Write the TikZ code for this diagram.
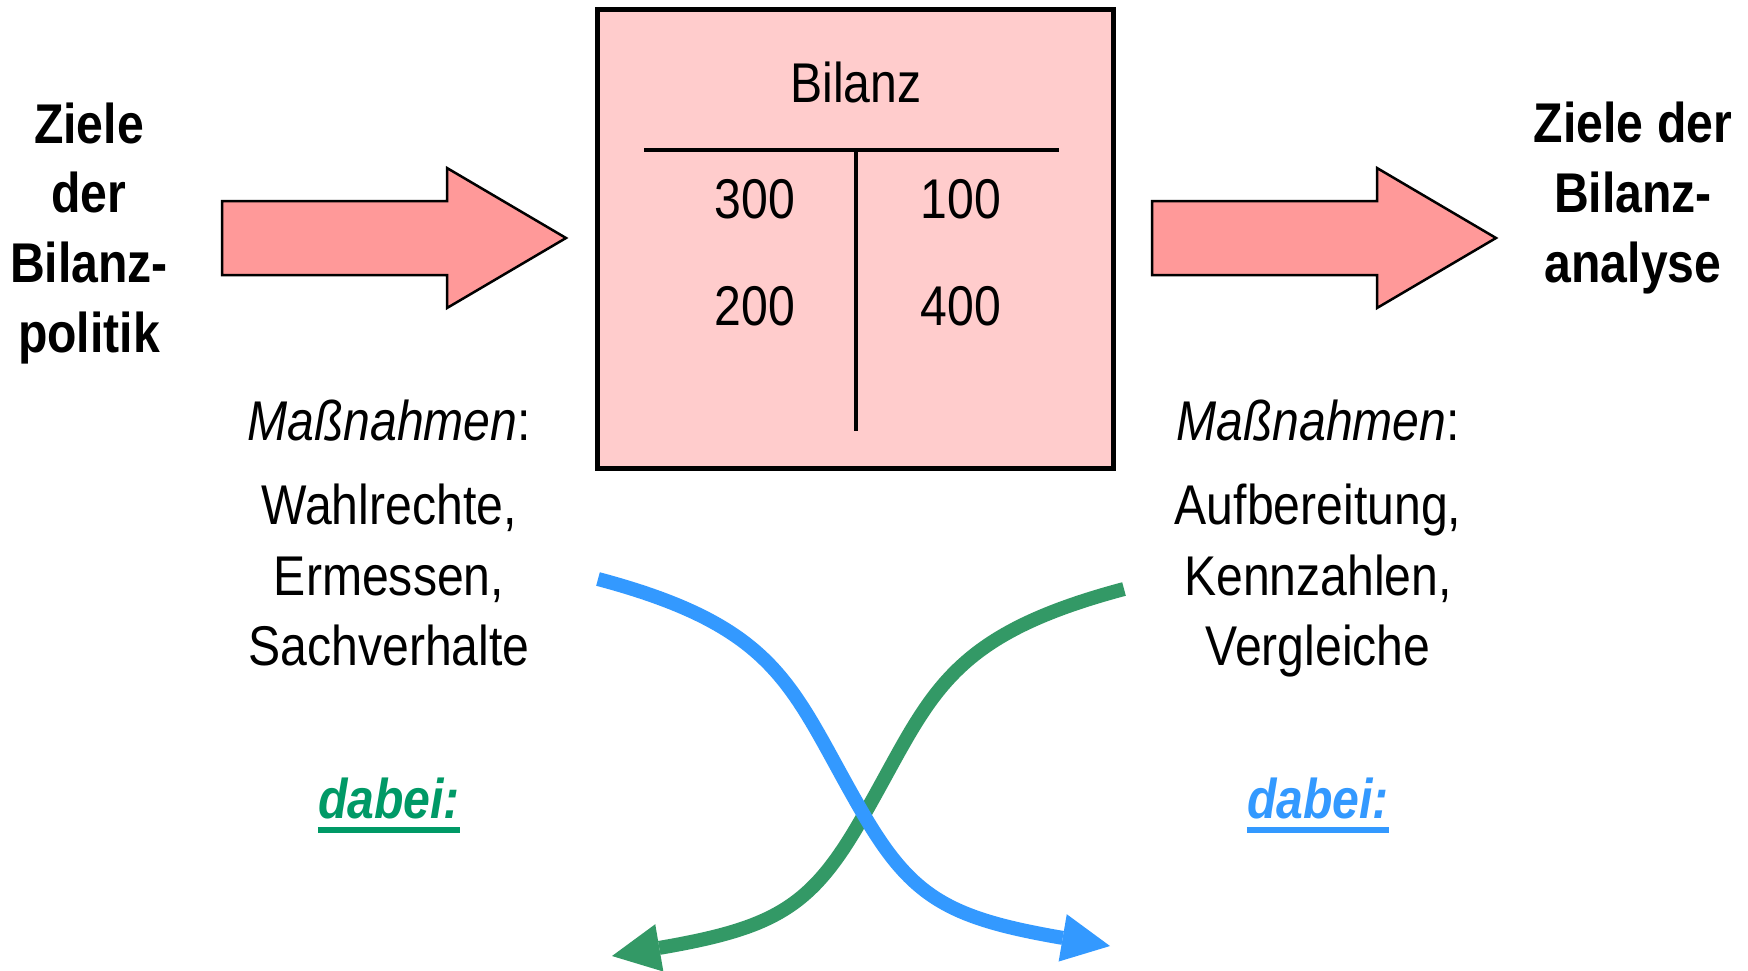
\documentclass[tikz,border=0pt]{standalone}
\usepackage{fontspec}
\setmainfont{Liberation Sans}[FakeStretch=0.86]
\usetikzlibrary{arrows.meta,calc}
\definecolor{boxpink}{HTML}{FFCCCC}
\definecolor{arrowpink}{HTML}{FF9999}
\definecolor{curveblue}{HTML}{3399FF}
\definecolor{curvegreen}{HTML}{339966}
\definecolor{textgreen}{HTML}{009966}
\begin{document}
\begin{tikzpicture}[x=1pt,y=-1pt,
  txt/.style={anchor=base, inner sep=0pt, font=\fontsize{56}{67}\selectfont},
  btxt/.style={anchor=base, inner sep=0pt, font=\fontsize{56}{67}\selectfont\bfseries},
  itxt/.style={anchor=base, inner sep=0pt, font=\fontsize{56}{67}\selectfont},
  dabeitxt/.style={anchor=base, inner sep=0pt, font=\fontsize{56}{67}\selectfont\bfseries\itshape},
  bigarrow/.style={draw=black, line width=2.5pt, fill=arrowpink, line join=miter},
  tline/.style={line width=4pt, draw=black},
  curve/.style={line width=14pt, line cap=butt, -{Triangle[length=48pt,width=48pt,line width=0pt]}},
  uline/.style={line width=6pt}]
\useasboundingbox (0,0) rectangle (1748,970);
\fill[white] (0,0) rectangle (1748,970);

% Bilanz box
\node[draw=black, fill=boxpink, line width=5pt, minimum width=516pt, minimum height=459pt, inner sep=0pt] (box) at (855.5,239) {};
\draw[tline] (644,150) -- (1059,150);
\draw[tline] (856,150) -- (856,431);
\node[txt] (titel) at (856,102) {Bilanz};
\node[txt] (a1) at (755,218) {300};
\node[txt] (p1) at (961,218) {100};
\node[txt] (a2) at (755,325) {200};
\node[txt] (p2) at (961,325) {400};

% block arrows
\draw[bigarrow] (222,201) -- (447,201) -- (447,168) -- (566,238) -- (447,308) -- (447,275) -- (222,275) -- cycle;
\draw[bigarrow] (1152,201) -- (1377,201) -- (1377,168) -- (1496,238) -- (1377,308) -- (1377,275) -- (1152,275) -- cycle;

% left title
\node[btxt] (l1) at (89,143) {Ziele};
\node[btxt] (l2) at (89,212) {der};
\node[btxt] (l3) at (89,282) {Bilanz-};
\node[btxt] (l4) at (89,352) {politik};

% right title
\node[btxt] (r1) at (1633,142) {Ziele der};
\node[btxt] (r2) at (1633,212) {Bilanz-};
\node[btxt] (r3) at (1633,282) {analyse};

% left measures
\node[itxt] (lm) at (389,440) {\textit{Maßnahmen}:};
\node[txt] (lm1) at (389,524) {Wahlrechte,};
\node[txt] (lm2) at (389,595) {Ermessen,};
\node[txt] (lm3) at (389,665) {Sachverhalte};
\node[dabeitxt, text=textgreen] (ld) at (389,818) {dabei:};
\draw[uline, textgreen] ($(ld.base west)+(0,12)$) -- ($(ld.base east)+(0,12)$);

% right measures
\node[itxt] (rm) at (1318,440) {\textit{Maßnahmen}:};
\node[txt] (rm1) at (1318,524) {Aufbereitung,};
\node[txt] (rm2) at (1318,595) {Kennzahlen,};
\node[txt] (rm3) at (1318,665) {Vergleiche};
\node[dabeitxt, text=curveblue] (rd) at (1318,818) {dabei:};
\draw[uline, curveblue] ($(rd.base west)+(0,12)$) -- ($(rd.base east)+(0,12)$);

% crossing curves
\coordinate (gs) at (1124,589);
\coordinate (gm) at (861,820);
\coordinate (ge) at (612,956);
\draw[curve, curvegreen] (gs) .. controls (940,638) and (931,699) .. (gm) .. controls (811,907) and (775,928) .. (ge);
\coordinate (bs) at (598,579);
\coordinate (bm) at (861,810);
\coordinate (be) at (1110,946);
\draw[curve, curveblue] (bs) .. controls (782,628) and (791,689) .. (bm) .. controls (911,897) and (947,918) .. (be);
\end{tikzpicture}
\end{document}
